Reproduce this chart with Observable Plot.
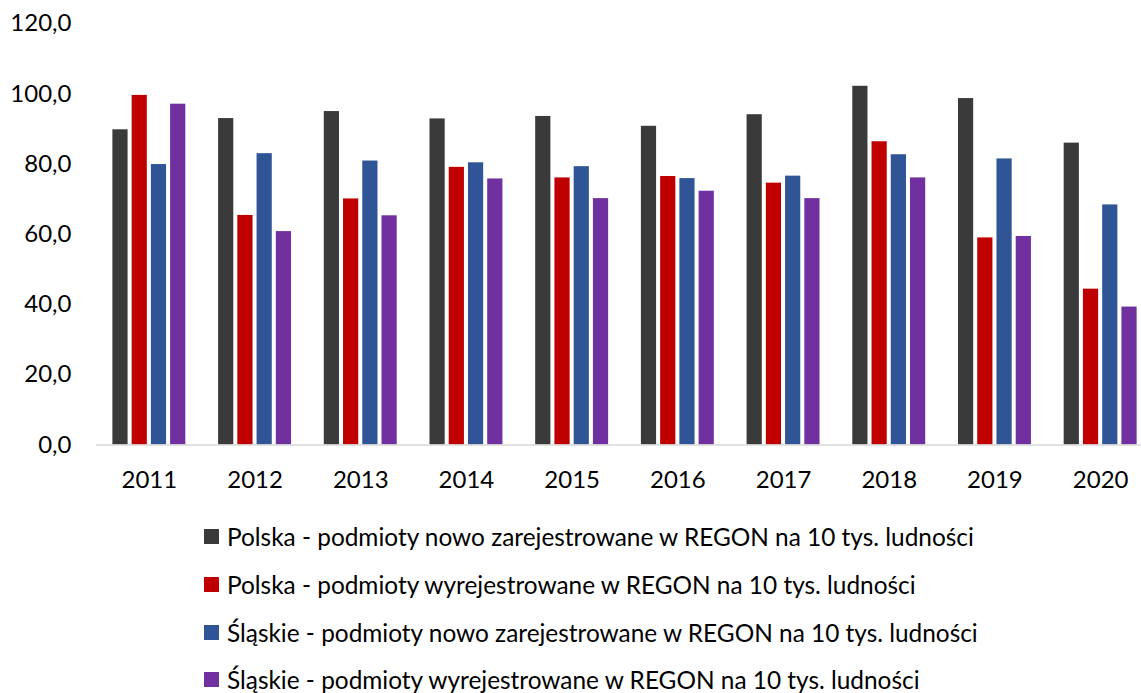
<!DOCTYPE html>
<html>
<head>
<meta charset="utf-8">
<script src="https://cdn.jsdelivr.net/npm/d3@7"></script>
<script src="https://cdn.jsdelivr.net/npm/@observablehq/plot@0.6"></script>
<style>
  html, body { margin: 0; padding: 0; background: #fff; overflow: hidden; }
  #chart { width: 1141px; }
  .legend { font-family: Lato, "Open Sans", sans-serif; font-size: 24.4px; color: #000; padding-left: 204px; }
  .legend .item { height: 47.7px; display: flex; align-items: center; }
  .legend .sw { width: 15px; height: 15px; margin-right: 8px; flex: none; }
</style>
</head>
<body>
<div id="chart"></div>
<script>
const years = ["2011","2012","2013","2014","2015","2016","2017","2018","2019","2020"];
const seriesNames = [
  "Polska - podmioty nowo zarejestrowane w REGON na 10 tys. ludności",
  "Polska - podmioty wyrejestrowane w REGON na 10 tys. ludności",
  "Śląskie - podmioty nowo zarejestrowane w REGON na 10 tys. ludności",
  "Śląskie - podmioty wyrejestrowane w REGON na 10 tys. ludności"
];
const polskaNowe   = [89.8, 93.0, 95.0, 92.9, 93.6, 90.8, 94.1, 102.2, 98.7, 86.0];
const polskaWyrej  = [99.6, 65.4, 70.1, 79.1, 76.1, 76.5, 74.6, 86.4, 59.0, 44.4];
const slaskieNowe  = [79.9, 83.0, 80.9, 80.4, 79.3, 75.9, 76.6, 82.7, 81.5, 68.4];
const slaskieWyrej = [97.1, 60.8, 65.3, 75.8, 70.2, 72.3, 70.2, 76.1, 59.4, 39.3];
const yTicks = [0, 20, 40, 60, 80, 100, 120];
const colors = ["#3a3a3a", "#c00000", "#2f5597", "#7030a0"];

const seriesValues = [polskaNowe, polskaWyrej, slaskieNowe, slaskieWyrej];

const W = 1141, ML = 96, MR = -12;
const groupPad = 0.31, innerPad = 0.21;
const step = (W - ML - MR) / years.length;
const groupW = step * (1 - groupPad);
const barStep = groupW / (seriesNames.length - innerPad);

const barMarks = seriesValues.map((vals, j) =>
  Plot.barY(years.map((yr, i) => ({year: yr, value: vals[i], series: seriesNames[j]})), {
    x: "year", y: "value", fill: "series",
    insetLeft: j * barStep,
    insetRight: (seriesNames.length - 1 - j) * barStep
  })
);

const chart = Plot.plot({
  width: W,
  height: 513,
  marginLeft: ML,
  marginRight: MR,
  marginTop: 23.3,
  marginBottom: 68.5,
  style: { fontFamily: "Lato, 'Open Sans', sans-serif", fontSize: "24px", color: "#000", background: "#fff" },
  x: { domain: years, paddingInner: groupPad, paddingOuter: groupPad / 2, round: false, label: null },
  y: { domain: [0, 120], label: null },
  color: { domain: seriesNames, range: colors },
  marks: [
    Plot.axisY({ ticks: yTicks, tickSize: 0, tickPadding: 25, tickFormat: d => d.toFixed(1).replace(".", ","), label: null }),
    Plot.axisX({ tickSize: 0, tickPadding: 26, label: null }),
    ...barMarks,
    Plot.ruleY([0], { stroke: "#d9d9d9", strokeWidth: 1.5 })
  ]
});
document.getElementById("chart").appendChild(chart);

const legend = document.createElement("div");
legend.className = "legend";
seriesNames.forEach((s, j) => {
  const item = document.createElement("div");
  item.className = "item";
  const sw = document.createElement("span");
  sw.className = "sw";
  sw.style.background = colors[j];
  const t = document.createElement("span");
  t.textContent = s;
  item.appendChild(sw);
  item.appendChild(t);
  legend.appendChild(item);
});
document.body.appendChild(legend);
</script>
</body>
</html>
